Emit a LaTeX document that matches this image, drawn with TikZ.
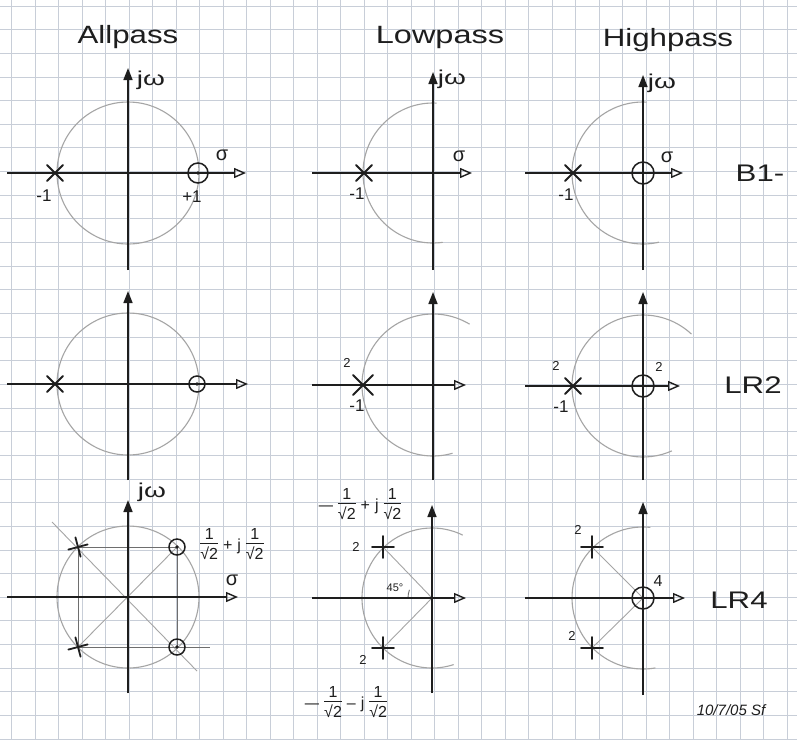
\documentclass[tikz,border=0pt]{standalone}
\usepackage{fontspec}
\setmainfont{Liberation Sans}
\usetikzlibrary{arrows.meta}
\definecolor{gridc}{RGB}{200,206,216}
\definecolor{ink}{RGB}{30,30,30}
\definecolor{arcc}{RGB}{165,165,165}
\definecolor{guide}{RGB}{110,110,110}
\newcommand{\rtwo}{{\setlength{\tabcolsep}{0pt}\renewcommand{\arraystretch}{0.85}\begin{tabular}{@{}c@{}}1\\\hline\rule{0pt}{1.0em}√2\end{tabular}}}
\newcommand{\gap}{\hspace{5pt}}
\tikzset{
 axis/.style={draw=ink,line width=1.6pt},
 sig/.style={axis,-{Triangle[open,length=12pt,width=10pt,line width=1.4pt]}},
 jw/.style={axis,-{Triangle[length=12pt,width=9pt]}},
 unit/.style={draw=arcc,line width=1.1pt},
 guideline/.style={draw=guide,line width=0.9pt},
 lbl/.style={text=ink,inner sep=0pt,font=\fontsize{17}{17}\selectfont},
 small/.style={text=ink,inner sep=0pt,font=\fontsize{13}{13}\selectfont},
 title/.style={text=ink,inner sep=0pt,font=\fontsize{25}{25}\selectfont},
 tag/.style={text=ink,inner sep=0pt,font=\fontsize{24}{24}\selectfont},
 greek/.style={text=ink,inner sep=0pt,font=\fontsize{20}{20}\selectfont},
 frac/.style={text=ink,inner sep=0pt,font=\fontsize{16}{16}\selectfont},
 pics/px/.style={code={\draw[ink,line width=1.8pt,line cap=round] (-#1,-#1)--(#1,#1) (-#1,#1)--(#1,-#1);}},
 pics/pp/.style={code={\draw[ink,line width=1.8pt,line cap=round] (0,-#1)--(0,#1) (-#1,0)--(#1,0);}},
 pics/zd/.style={code={\draw[ink,line width=1.5pt] (0,0) circle[radius=#1]; \fill[ink] (0,0) circle[radius=1.8];}},
 pics/zo/.style={code={\draw[ink,line width=1.5pt] (0,0) circle[radius=#1];}},
}
\begin{document}
\begin{tikzpicture}[x=1pt,y=-1pt]
\useasboundingbox (0,0) rectangle (797,740);
\fill[white] (0,0) rectangle (797,740);
% grid paper
\foreach \i in {0,...,33} \draw[gridc,line width=0.9pt] ({11.5+23.5*\i},0) -- ({11.5+23.5*\i},740);
\foreach \j in {0,...,31} \draw[gridc,line width=0.9pt] (0,{6+23.65*\j}) -- (797,{6+23.65*\j});

% titles
\node[title] (tA) at (128,37) {\scalebox{1.25}[1]{Allpass}};
\node[title] (tL) at (440,37) {\scalebox{1.3}[1]{Lowpass}};
\node[title] (tH) at (668,40) {\scalebox{1.25}[1]{Highpass}};

% ---------------- Row 1 ----------------
\coordinate (O1) at (128,173);
\draw[unit] (O1) circle[radius=71];
\draw[sig] (7,173) -- (246,173);
\draw[jw] (128,270) -- (128,68);
\pic at (55,173) {px=8};
\pic at (198,173) {zd=10};
\node[lbl] (a1m) at (44,196) {-1};
\node[lbl] (a1p) at (192,197) {+1};
\node[greek] (a1s) at (222,155) {σ};
\node[greek] (a1j) at (151,80) {\scalebox{1.4}[1]{jω}};

\coordinate (O2) at (433,173);
\draw[unit] (O2) ++(-87:70) arc[start angle=-87, end angle=-278, radius=70];
\draw[sig] (312,173) -- (472,173);
\draw[jw] (433,270) -- (433,72);
\pic at (364,173) {px=8};
\node[lbl] (b1m) at (357,194) {-1};
\node[greek] (b1s) at (459,156) {σ};
\node[greek] (b1j) at (452,79) {\scalebox{1.4}[1]{jω}};

\coordinate (O3) at (643,173);
\draw[unit] (O3) ++(-87:71) arc[start angle=-87, end angle=-283, radius=71];
\draw[sig] (525,173) -- (683,173);
\draw[jw] (643,270) -- (643,75);
\pic at (573,173) {px=8};
\pic at (643,173) {zo=11};
\node[lbl] (c1m) at (566,195) {-1};
\node[greek] (c1s) at (667,157) {σ};
\node[greek] (c1j) at (662,83) {\scalebox{1.4}[1]{jω}};
\node[tag] (B1) at (760,173) {\scalebox{1.3}[1]{B1-}};

% ---------------- Row 2 ----------------
\coordinate (O4) at (128,384);
\draw[unit] (O4) circle[radius=71];
\draw[sig] (7,384) -- (248,384);
\draw[jw] (128,480) -- (128,291);
\pic at (55,384) {px=8};
\pic at (197,384) {zd=8};

\coordinate (O5) at (433,385);
\draw[unit] (O5) ++(-59:71) arc[start angle=-59, end angle=-286, radius=71];
\draw[sig] (312,385) -- (466,385);
\draw[jw] (433,480) -- (433,292);
\pic at (363,385) {px=10};
\node[small] (b2n) at (347,363) {2};
\node[lbl] (b2m) at (357,406) {-1};

\coordinate (O6) at (643,386);
\draw[unit] (O6) ++(-47:71) arc[start angle=-47, end angle=-294, radius=71];
\draw[sig] (525,386) -- (680,386);
\draw[jw] (643,480) -- (643,292);
\pic at (573,386) {px=8};
\pic at (643,386) {zo=11};
\node[small] (c2n) at (556,366) {2};
\node[lbl] (c2m) at (561,407) {-1};
\node[small] (c2z) at (659,367) {2};
\node[tag] (LR2) at (753,385) {\scalebox{1.3}[1]{LR2}};

% ---------------- Row 3 ----------------
\coordinate (O7) at (128,597);
\draw[unit] (O7) circle[radius=71];
\draw[guideline,draw=arcc] (52,522) -- (197,671);
\draw[guideline,draw=arcc] (78,647) -- (177,547);
\draw[guideline] (78,547) -- (177,547);
\draw[guideline] (78,647) -- (210,647);
\draw[guideline] (78,547) -- (78,647);
\draw[guideline] (177,547) -- (177,647);
\draw[sig] (7,597) -- (238,597);
\draw[jw] (128,693) -- (128,500);
\pic[rotate=15] at (78,547) {pp=10};
\pic[rotate=15] at (78,647) {pp=10};
\pic at (177,547) {zd=8};
\pic at (177,647) {zd=8};
\node[frac] (a3f) at (232,546) {\rtwo\gap+\gap j\gap\rtwo};
\node[greek] (a3s) at (232,580) {σ};
\node[greek] (a3j) at (152,492) {\scalebox{1.4}[1]{jω}};

\coordinate (O8) at (432,598);
\draw[unit] (O8) ++(-64:70) arc[start angle=-64, end angle=-288, radius=70];
\draw[guideline,draw=arcc] (O8) -- (383,547);
\draw[guideline,draw=arcc] (O8) -- (383,648);
\draw[guideline] (O8) ++(180:24) arc[start angle=180, end angle=200, radius=24];
\draw[sig] (312,598) -- (466,598);
\draw[jw] (432,693) -- (432,505);
\pic at (383,547) {pp=11};
\pic at (383,648) {pp=11};
\node[small] (b3a) at (356,547) {2};
\node[small] (b3b) at (363,660) {2};
\node[text=ink,inner sep=0pt,font=\fontsize{11}{11}\selectfont] (b3g) at (395,588) {45°};
\node[frac] (b3u) at (360,506) {\scalebox{1.6}[1]{–}\gap\rtwo\gap+\gap j\gap\rtwo};
\node[frac] (b3l) at (346,704) {\scalebox{1.6}[1]{–}\gap\rtwo\gap–\gap j\gap\rtwo};

\coordinate (O9) at (643,598);
\draw[unit] (O9) ++(-84:71) arc[start angle=-84, end angle=-280, radius=71];
\draw[guideline,draw=arcc] (O9) -- (592,547);
\draw[guideline,draw=arcc] (O9) -- (592,648);
\draw[sig] (525,598) -- (685,598);
\draw[jw] (643,695) -- (643,502);
\pic at (592,547) {pp=11};
\pic at (592,648) {pp=11};
\pic at (643,598) {zo=11};
\node[small,font=\fontsize{16}{16}\selectfont] (c3z) at (658,581) {4};
\node[small] (c3a) at (578,530) {2};
\node[small] (c3b) at (572,636) {2};
\node[tag] (LR4) at (739,600) {\scalebox{1.3}[1]{LR4}};
\node[text=ink,inner sep=0pt,font=\itshape\fontsize{15}{15}\selectfont] (date) at (731,710) {10/7/05 Sf};
\end{tikzpicture}
\end{document}
